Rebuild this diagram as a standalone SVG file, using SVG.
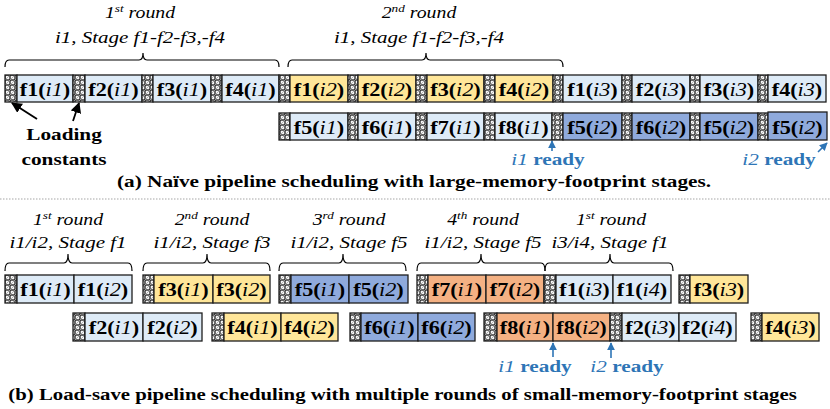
<svg xmlns="http://www.w3.org/2000/svg" width="830" height="409" viewBox="0 0 830 409">
<defs>
<pattern id="hatch" width="5" height="5" patternUnits="userSpaceOnUse">
<rect width="5" height="5" fill="#f5f5f5"/>
<path d="M-1,1 L1,-1 M0,5 L5,0 M4,6 L6,4" stroke="#a8a8a8" stroke-width="0.9"/>
</pattern>
<marker id="ak" viewBox="0 0 10 10" refX="9" refY="5" markerWidth="6" markerHeight="6" orient="auto-start-reverse">
<path d="M0,0 L10,5 L0,10 Z" fill="#000"/>
</marker>
<marker id="ab" viewBox="0 0 10 10" refX="9" refY="5" markerWidth="5" markerHeight="5" orient="auto-start-reverse">
<path d="M0,0 L10,5 L0,10 Z" fill="#2E75B6"/>
</marker>
</defs>
<style>
rect{stroke:#1e1e1e;stroke-width:1.3}
.L{fill:#DEEBF7}.Y{fill:#FFE699}.B{fill:#8FAADC}.O{fill:#F4B183}.H{fill:url(#hatch)}
text{font-family:'Liberation Serif','DejaVu Serif',serif;fill:#000}
.t{font-size:18.5px;font-weight:bold;text-anchor:middle}
.i{font-style:italic;font-weight:normal}
.r{font-size:16.5px;font-style:italic;text-anchor:middle}
.s{font-size:17.5px;font-style:italic;text-anchor:middle}
.ttl{font-size:17.7px;font-weight:bold;text-anchor:middle}
.lc{font-size:17.7px;font-weight:bold;text-anchor:middle}
.rd{font-size:17.7px;font-weight:bold;fill:#2E75B6;text-anchor:middle}
.rd .i{fill:#2E75B6}
.br{fill:none;stroke:#000;stroke-width:1.2}
</style>

<!-- ===== (a) ===== -->
<g id="a-labels">
<text class="r" transform="translate(140,18) scale(1.2,1)">1<tspan font-size="11" dy="-6">st</tspan><tspan dy="6"> round</tspan></text>
<text class="s" transform="translate(140,43) scale(1.2,1)">i1, Stage f1-f2-f3,-f4</text>
<text class="r" transform="translate(419,18) scale(1.2,1)">2<tspan font-size="11" dy="-6">nd</tspan><tspan dy="6"> round</tspan></text>
<text class="s" transform="translate(419,43) scale(1.2,1)">i1, Stage f1-f2-f3,-f4</text>
</g>
<g id="a-braces">
<path class="br" d="M5,67 Q5,60 9,60 L139,60 Q143,60 143,53 Q143,60 147,60 L275,60 Q279,60 279,67"/>
<path class="br" d="M288,67 Q288,60 292,60 L422,60 Q426,60 426,53 Q426,60 430,60 L559,60 Q563,60 563,67"/>
</g>

<g id="a-row1">
<g id="a1h1"><rect class="H" x="5" y="75" width="12" height="27"/></g>
<g id="a1f1"><rect class="L" x="17" y="75" width="56" height="27"/><text class="t" transform="translate(45,95.5) scale(1.2,1)">f1(<tspan class="i">i1</tspan>)</text></g>
<g id="a1h2"><rect class="H" x="73" y="75" width="12" height="27"/></g>
<g id="a1f2"><rect class="L" x="85" y="75" width="57" height="27"/><text class="t" transform="translate(113.5,95.5) scale(1.2,1)">f2(<tspan class="i">i1</tspan>)</text></g>
<g id="a1h3"><rect class="H" x="142" y="75" width="11" height="27"/></g>
<g id="a1f3"><rect class="L" x="153" y="75" width="58" height="27"/><text class="t" transform="translate(182,95.5) scale(1.2,1)">f3(<tspan class="i">i1</tspan>)</text></g>
<g id="a1h4"><rect class="H" x="211" y="75" width="11" height="27"/></g>
<g id="a1f4"><rect class="L" x="222" y="75" width="57" height="27"/><text class="t" transform="translate(250.5,95.5) scale(1.2,1)">f4(<tspan class="i">i1</tspan>)</text></g>
<g id="a1h5"><rect class="H" x="279" y="75" width="11" height="27"/></g>
<g id="a1f5"><rect class="Y" x="290" y="75" width="58" height="27"/><text class="t" transform="translate(319,95.5) scale(1.2,1)">f1(<tspan class="i">i2</tspan>)</text></g>
<g id="a1h6"><rect class="H" x="348" y="75" width="10" height="27"/></g>
<g id="a1f6"><rect class="Y" x="358" y="75" width="58" height="27"/><text class="t" transform="translate(387,95.5) scale(1.2,1)">f2(<tspan class="i">i2</tspan>)</text></g>
<g id="a1h7"><rect class="H" x="416" y="75" width="11" height="27"/></g>
<g id="a1f7"><rect class="Y" x="427" y="75" width="57" height="27"/><text class="t" transform="translate(455.5,95.5) scale(1.2,1)">f3(<tspan class="i">i2</tspan>)</text></g>
<g id="a1h8"><rect class="H" x="484" y="75" width="11" height="27"/></g>
<g id="a1f8"><rect class="Y" x="495" y="75" width="58" height="27"/><text class="t" transform="translate(524,95.5) scale(1.2,1)">f4(<tspan class="i">i2</tspan>)</text></g>
<g id="a1h9"><rect class="H" x="553" y="75" width="10" height="27"/></g>
<g id="a1f9"><rect class="L" x="563" y="75" width="59" height="27"/><text class="t" transform="translate(592.5,95.5) scale(1.2,1)">f1(<tspan class="i">i3</tspan>)</text></g>
<g id="a1h10"><rect class="H" x="622" y="75" width="10" height="27"/></g>
<g id="a1f10"><rect class="L" x="632" y="75" width="58" height="27"/><text class="t" transform="translate(661,95.5) scale(1.2,1)">f2(<tspan class="i">i3</tspan>)</text></g>
<g id="a1h11"><rect class="H" x="690" y="75" width="10" height="27"/></g>
<g id="a1f11"><rect class="L" x="700" y="75" width="58" height="27"/><text class="t" transform="translate(729,95.5) scale(1.2,1)">f3(<tspan class="i">i3</tspan>)</text></g>
<g id="a1h12"><rect class="H" x="758" y="75" width="10" height="27"/></g>
<g id="a1f12"><rect class="L" x="768" y="75" width="58" height="27"/><text class="t" transform="translate(797,95.5) scale(1.2,1)">f4(<tspan class="i">i3</tspan>)</text></g>
</g>

<g id="a-row2">
<g id="a2h1"><rect class="H" x="279" y="113" width="11" height="27"/></g>
<g id="a2f1"><rect class="L" x="290" y="113" width="58" height="27"/><text class="t" transform="translate(319,133.5) scale(1.2,1)">f5(<tspan class="i">i1</tspan>)</text></g>
<g id="a2h2"><rect class="H" x="348" y="113" width="10" height="27"/></g>
<g id="a2f2"><rect class="L" x="358" y="113" width="58" height="27"/><text class="t" transform="translate(387,133.5) scale(1.2,1)">f6(<tspan class="i">i1</tspan>)</text></g>
<g id="a2h3"><rect class="H" x="416" y="113" width="11" height="27"/></g>
<g id="a2f3"><rect class="L" x="427" y="113" width="57" height="27"/><text class="t" transform="translate(455.5,133.5) scale(1.2,1)">f7(<tspan class="i">i1</tspan>)</text></g>
<g id="a2h4"><rect class="H" x="484" y="113" width="11" height="27"/></g>
<g id="a2f4"><rect class="L" x="495" y="113" width="57" height="27"/><text class="t" transform="translate(523.5,133.5) scale(1.2,1)">f8(<tspan class="i">i1</tspan>)</text></g>
<g id="a2h5"><rect class="H" x="552" y="113" width="11" height="27"/></g>
<g id="a2f5"><rect class="B" x="563" y="113" width="59" height="27"/><text class="t" transform="translate(592.5,133.5) scale(1.2,1)">f5(<tspan class="i">i2</tspan>)</text></g>
<g id="a2h6"><rect class="H" x="622" y="113" width="10" height="27"/></g>
<g id="a2f6"><rect class="B" x="632" y="113" width="58" height="27"/><text class="t" transform="translate(661,133.5) scale(1.2,1)">f6(<tspan class="i">i2</tspan>)</text></g>
<g id="a2h7"><rect class="H" x="690" y="113" width="10" height="27"/></g>
<g id="a2f7"><rect class="B" x="700" y="113" width="58" height="27"/><text class="t" transform="translate(729,133.5) scale(1.2,1)">f5(<tspan class="i">i2</tspan>)</text></g>
<g id="a2h8"><rect class="H" x="758" y="113" width="10" height="27"/></g>
<g id="a2f8"><rect class="B" x="768" y="112" width="59" height="28"/><text class="t" transform="translate(797.5,133.5) scale(1.2,1)">f5(<tspan class="i">i2</tspan>)</text></g>
</g>

<g id="a-notes">
<text class="lc" transform="translate(64,140) scale(1.2,1)">Loading</text>
<text class="lc" transform="translate(64,165) scale(1.2,1)">constants</text>
<text class="rd" transform="translate(548,165) scale(1.2,1)"><tspan class="i">i1</tspan> ready</text>
<text class="rd" transform="translate(779,165) scale(1.2,1)"><tspan class="i">i2</tspan> ready</text>
<text class="ttl" transform="translate(414,187) scale(1.2,1)" textLength="495" lengthAdjust="spacingAndGlyphs">(a) Naïve pipeline scheduling with large-memory-footprint stages.</text>
</g>

<line x1="0" y1="199" x2="830" y2="199" stroke="#c4c4c4" stroke-width="1.5" stroke-dasharray="1.5 1.5"/>

<!-- ===== (b) ===== -->
<g id="b-labels">
<text class="r" transform="translate(68,225) scale(1.2,1)">1<tspan font-size="11" dy="-6">st</tspan><tspan dy="6"> round</tspan></text>
<text class="s" transform="translate(68,248) scale(1.2,1)">i1/i2, Stage f1</text>
<text class="r" transform="translate(212,225) scale(1.2,1)">2<tspan font-size="11" dy="-6">nd</tspan><tspan dy="6"> round</tspan></text>
<text class="s" transform="translate(212,248) scale(1.2,1)">i1/i2, Stage f3</text>
<text class="r" transform="translate(349,225) scale(1.2,1)">3<tspan font-size="11" dy="-6">rd</tspan><tspan dy="6"> round</tspan></text>
<text class="s" transform="translate(349,248) scale(1.2,1)">i1/i2, Stage f5</text>
<text class="r" transform="translate(483,225) scale(1.2,1)">4<tspan font-size="11" dy="-6">th</tspan><tspan dy="6"> round</tspan></text>
<text class="s" transform="translate(483,248) scale(1.2,1)">i1/i2, Stage f5</text>
<text class="r" transform="translate(611,225) scale(1.2,1)">1<tspan font-size="11" dy="-6">st</tspan><tspan dy="6"> round</tspan></text>
<text class="s" transform="translate(610,248) scale(1.2,1)">i3/i4, Stage f1</text>
</g>
<g id="b-braces">
<path class="br" d="M5,271 Q5,263 9,263 L64,263 Q68,263 68,254 Q68,263 72,263 L128,263 Q132,263 132,271"/>
<path class="br" d="M143,271 Q143,263 147,263 L203,263 Q207,263 207,254 Q207,263 211,263 L266,263 Q270,263 270,271"/>
<path class="br" d="M279,271 Q279,263 283,263 L339,263 Q343,263 343,254 Q343,263 347,263 L402,263 Q406,263 406,271"/>
<path class="br" d="M417,271 Q417,263 421,263 L477,263 Q481,263 481,254 Q481,263 485,263 L541,263 Q545,263 545,271"/>
<path class="br" d="M545,271 Q545,263 549,263 L606,263 Q610,263 610,254 Q610,263 614,263 L669,263 Q673,263 673,271"/>
</g>

<g id="b-row1">
<g id="b1h1"><rect class="H" x="5" y="275" width="12" height="28"/></g>
<g id="b1f1"><rect class="L" x="17" y="275" width="57" height="28"/><text class="t" transform="translate(45.5,296) scale(1.2,1)">f1(<tspan class="i">i1</tspan>)</text></g>
<g id="b1f2"><rect class="L" x="74" y="275" width="58" height="28"/><text class="t" transform="translate(103,296) scale(1.2,1)">f1(<tspan class="i">i2</tspan>)</text></g>
<g id="b1h2"><rect class="H" x="143" y="275" width="11" height="28"/></g>
<g id="b1f3"><rect class="Y" x="154" y="275" width="59" height="28"/><text class="t" transform="translate(183.5,296) scale(1.2,1)">f3(<tspan class="i">i1</tspan>)</text></g>
<g id="b1f4"><rect class="Y" x="213" y="275" width="57" height="28"/><text class="t" transform="translate(241.5,296) scale(1.2,1)">f3(<tspan class="i">i2</tspan>)</text></g>
<g id="b1h3"><rect class="H" x="279" y="275" width="12" height="28"/></g>
<g id="b1f5"><rect class="B" x="291" y="275" width="58" height="28"/><text class="t" transform="translate(320,296) scale(1.2,1)">f5(<tspan class="i">i1</tspan>)</text></g>
<g id="b1f6"><rect class="B" x="349" y="275" width="59" height="28"/><text class="t" transform="translate(378.5,296) scale(1.2,1)">f5(<tspan class="i">i2</tspan>)</text></g>
<g id="b1h4"><rect class="H" x="417" y="275" width="11" height="28"/></g>
<g id="b1f7"><rect class="O" x="428" y="275" width="58" height="28"/><text class="t" transform="translate(457,296) scale(1.2,1)">f7(<tspan class="i">i1</tspan>)</text></g>
<g id="b1f8"><rect class="O" x="486" y="275" width="58" height="28"/><text class="t" transform="translate(515,296) scale(1.2,1)">f7(<tspan class="i">i2</tspan>)</text></g>
<g id="b1h5"><rect class="H" x="544" y="275" width="12" height="28"/></g>
<g id="b1f9"><rect class="L" x="556" y="275" width="57" height="28"/><text class="t" transform="translate(584.5,296) scale(1.2,1)">f1(<tspan class="i">i3</tspan>)</text></g>
<g id="b1f10"><rect class="L" x="613" y="275" width="58" height="28"/><text class="t" transform="translate(642,296) scale(1.2,1)">f1(<tspan class="i">i4</tspan>)</text></g>
<g id="b1h6"><rect class="H" x="679" y="275" width="11" height="28"/></g>
<g id="b1f11"><rect class="Y" x="690" y="275" width="58" height="28"/><text class="t" transform="translate(719,296) scale(1.2,1)">f3(<tspan class="i">i3</tspan>)</text></g>
</g>

<g id="b-row2">
<g id="b2h1"><rect class="H" x="73" y="313" width="12" height="28"/></g>
<g id="b2f1"><rect class="L" x="85" y="313" width="58" height="28"/><text class="t" transform="translate(114,334) scale(1.2,1)">f2(<tspan class="i">i1</tspan>)</text></g>
<g id="b2f2"><rect class="L" x="143" y="313" width="59" height="28"/><text class="t" transform="translate(172.5,334) scale(1.2,1)">f2(<tspan class="i">i2</tspan>)</text></g>
<g id="b2h2"><rect class="H" x="212" y="313" width="12" height="28"/></g>
<g id="b2f3"><rect class="Y" x="224" y="313" width="57" height="28"/><text class="t" transform="translate(252.5,334) scale(1.2,1)">f4(<tspan class="i">i1</tspan>)</text></g>
<g id="b2f4"><rect class="Y" x="281" y="313" width="57" height="28"/><text class="t" transform="translate(309.5,334) scale(1.2,1)">f4(<tspan class="i">i2</tspan>)</text></g>
<g id="b2h3"><rect class="H" x="350" y="313" width="11" height="28"/></g>
<g id="b2f5"><rect class="B" x="361" y="313" width="57" height="28"/><text class="t" transform="translate(389.5,334) scale(1.2,1)">f6(<tspan class="i">i1</tspan>)</text></g>
<g id="b2f6"><rect class="B" x="418" y="313" width="57" height="28"/><text class="t" transform="translate(446.5,334) scale(1.2,1)">f6(<tspan class="i">i2</tspan>)</text></g>
<g id="b2h4"><rect class="H" x="484" y="313" width="13" height="28"/></g>
<g id="b2f7"><rect class="O" x="497" y="313" width="56" height="28"/><text class="t" transform="translate(525,334) scale(1.2,1)">f8(<tspan class="i">i1</tspan>)</text></g>
<g id="b2f8"><rect class="O" x="553" y="313" width="57" height="28"/><text class="t" transform="translate(581.5,334) scale(1.2,1)">f8(<tspan class="i">i2</tspan>)</text></g>
<g id="b2h5"><rect class="H" x="610" y="313" width="12" height="28"/></g>
<g id="b2f9"><rect class="L" x="622" y="313" width="57" height="28"/><text class="t" transform="translate(650.5,334) scale(1.2,1)">f2(<tspan class="i">i3</tspan>)</text></g>
<g id="b2f10"><rect class="L" x="679" y="313" width="57" height="28"/><text class="t" transform="translate(707.5,334) scale(1.2,1)">f2(<tspan class="i">i4</tspan>)</text></g>
<g id="b2h6"><rect class="H" x="751" y="313" width="11" height="28"/></g>
<g id="b2f11"><rect class="Y" x="762" y="313" width="57" height="28"/><text class="t" transform="translate(790.5,334) scale(1.2,1)">f4(<tspan class="i">i3</tspan>)</text></g>
</g>

<g id="b-notes">
<text class="rd" transform="translate(535,372) scale(1.2,1)"><tspan class="i">i1</tspan> ready</text>
<text class="rd" transform="translate(627,372) scale(1.2,1)"><tspan class="i">i2</tspan> ready</text>
<text class="ttl" transform="translate(402.5,400) scale(1.2,1)" textLength="657" lengthAdjust="spacingAndGlyphs">(b) Load-save pipeline scheduling with multiple rounds of small-memory-footprint stages</text>
</g>

<g id="connectors">
<line x1="37" y1="119" x2="12" y2="103" stroke="#000" stroke-width="1.8" marker-end="url(#ak)"/>
<line x1="73" y1="121" x2="79" y2="103" stroke="#000" stroke-width="1.8" marker-end="url(#ak)"/>
<line x1="552" y1="151" x2="552" y2="141" stroke="#2E75B6" stroke-width="1.6" marker-end="url(#ab)"/>
<line x1="818" y1="152" x2="827" y2="143" stroke="#2E75B6" stroke-width="1.6" marker-end="url(#ab)"/>
<line x1="553" y1="357" x2="553" y2="343" stroke="#2E75B6" stroke-width="1.6" marker-end="url(#ab)"/>
<line x1="611" y1="358" x2="611" y2="343" stroke="#2E75B6" stroke-width="1.6" marker-end="url(#ab)"/>
</g>
</svg>
